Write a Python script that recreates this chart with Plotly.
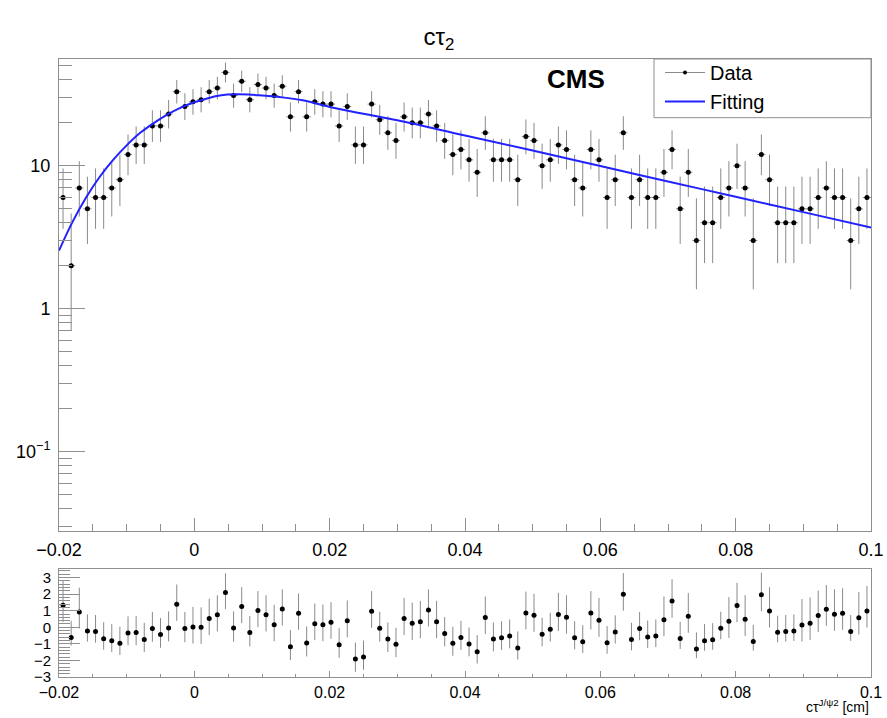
import math
import numpy as np
import plotly.graph_objects as go

# ---------------- data ----------------
bin_lo, bin_hi, n_bins = -0.02, 0.1, 100

counts = [6, 2, 7, 5, 6, 6, 7, 8, 12, 14,
          14, 19, 19, 23, 33, 26, 28, 29, 33, 35,
          45, 31, 39, 29, 37, 35, 31, 36, 22, 33,
          22, 28, 27, 27, 19, 26, 14, 14, 27, 21,
          17, 15, 22, 20, 20, 23, 19, 15, 12, 13,
          11, 9, 17, 11, 11, 11, 8, 16, 15, 10,
          11, 14, 13, 8, 7, 13, 11, 6, 8, 17,
          6, 8, 6, 6, 9, 13, 5, 9, 3, 4,
          4, 6, 7, 10, 7, 3, 12, 8, 4, 4,
          4, 5, 5, 6, 7, 6, 6, 3, 5, 6]

pulls = [1.33, -0.61, 0.93, -0.22, -0.26, -0.69, -0.81, -0.97, -0.34, -0.32,
         -0.73, -0.08, -0.44, -0.04, 1.39, -0.08, 0.02, 0.0, 0.53, 0.75,
         2.10, -0.04, 1.25, -0.32, 1.01, 0.75, 0.16, 1.11, -1.17, 0.85,
         -0.95, 0.22, 0.16, 0.30, -1.05, 0.40, -1.92, -1.80, 0.97, -0.06,
         -0.71, -1.03, 0.53, 0.24, 0.34, 1.05, 0.34, -0.38, -0.97, -0.61,
         -1.01, -1.47, 0.59, -0.71, -0.63, -0.53, -1.25, 0.87, 0.73, -0.42,
         -0.12, 0.77, 0.61, -0.63, -0.87, 0.87, 0.42, -0.93, -0.28, 2.00,
         -0.73, -0.08, -0.59, -0.53, 0.46, 1.58, -0.67, 0.67, -1.31, -0.81,
         -0.75, -0.06, 0.36, 1.31, 0.48, -0.85, 1.96, 0.99, -0.30, -0.26,
         -0.22, 0.14, 0.24, 0.71, 1.09, 0.79, 0.85, -0.26, 0.57, 0.99]

fit_x = [-0.020, -0.018, -0.016, -0.014, -0.012, -0.010, -0.008, -0.006, -0.004,
         -0.002, 0.000, 0.002, 0.004, 0.006, 0.008, 0.010, 0.013, 0.016, 0.020,
         0.025, 0.030, 0.040, 0.050, 0.060, 0.070, 0.080, 0.090, 0.100]
fit_y = [2.55, 4.05, 6.0, 8.35, 11.0, 13.9, 17.0, 19.9, 22.8, 25.5,
         27.8, 29.7, 31.1, 31.6, 31.5, 31.0, 30.1, 28.7, 25.8,
         23.1, 20.8, 16.3, 12.8, 9.95, 7.77, 6.07, 4.74, 3.70]

y_major = [0.1, 1, 10]
y_major_text = ["10<sup>\u22121</sup>", "1", "10"]

# ---------------- derived quantities ----------------
edges = np.linspace(bin_lo, bin_hi, n_bins + 1)
centers = 0.5 * (edges[:-1] + edges[1:])
half_w = 0.5 * (edges[1] - edges[0])


def pois_cdf(k, mu):
    if k < 0:
        return 0.0
    s = 0.0
    for i in range(k + 1):
        s += math.exp(-mu + i * math.log(mu) - math.lgamma(i + 1)) if mu > 0 else (1.0 if i == 0 else 0.0)
    return s


def garwood(n, a=0.3173):
    if n == 0:
        lo = 0.0
    else:
        l, h = 0.0, float(n)
        for _ in range(80):
            m = 0.5 * (l + h)
            if 1 - pois_cdf(n - 1, m) < a / 2:
                l = m
            else:
                h = m
        lo = 0.5 * (l + h)
    l, h = float(n), float(n) + 10 * math.sqrt(n + 1) + 10
    for _ in range(80):
        m = 0.5 * (l + h)
        if pois_cdf(n, m) > a / 2:
            l = m
        else:
            h = m
    hi = 0.5 * (l + h)
    return lo, hi


err_lo, err_hi = [], []
for n in counts:
    lo, hi = garwood(n)
    err_lo.append(n - lo)
    err_hi.append(hi - n)

pull_up, pull_dn = [], []
for p, el, eh in zip(pulls, err_lo, err_hi):
    norm = el if p >= 0 else eh
    pull_up.append(eh / norm)
    pull_dn.append(el / norm)

y_minor = [m * 10.0 ** k for k in (-2, -1, 0, 1) for m in range(2, 10)]
y_minor = [v for v in y_minor if 0.028 <= v <= 56]

# ---------------- figure ----------------
FONT = "Liberation Sans, Arial, Helvetica, sans-serif"
ERRC = "#8a8a8a"
FRAME = "#8f8f8f"
PW = 812.0   # plot width in px
PH = 618.0   # plot height in px

fig = go.Figure()

fig.add_trace(go.Scatter(
    x=centers, y=counts, mode="markers", showlegend=False,
    marker=dict(color="black", size=5),
    error_y=dict(type="data", symmetric=False, array=err_hi, arrayminus=err_lo,
                 color=ERRC, thickness=1, width=0),
    error_x=dict(type="constant", value=half_w, color=ERRC, thickness=1, width=0),
    xaxis="x", yaxis="y"))

fig.add_trace(go.Scatter(
    x=[None], y=[None], mode="lines+markers", name="Data",
    line=dict(color=ERRC, width=1), marker=dict(color="black", size=4),
    xaxis="x", yaxis="y"))

fig.add_trace(go.Scatter(
    x=fit_x, y=fit_y, mode="lines", name="Fitting",
    line=dict(color="#2222ff", width=2, shape="spline", smoothing=1.0),
    xaxis="x", yaxis="y"))

fig.add_trace(go.Scatter(
    x=centers, y=pulls, mode="markers", showlegend=False,
    marker=dict(color="black", size=5),
    error_y=dict(type="data", symmetric=False, array=pull_up, arrayminus=pull_dn,
                 color=ERRC, thickness=1, width=0),
    xaxis="x2", yaxis="y2"))

axis_common = dict(showline=True, mirror=True, linecolor=FRAME, linewidth=1,
                   showgrid=False, zeroline=False, ticks="inside",
                   tickcolor=FRAME, tickwidth=1, automargin=False)

fig.update_layout(
    width=887, height=718,
    margin=dict(l=59, r=16, t=59, b=41, autoexpand=False),
    paper_bgcolor="white", plot_bgcolor="white",
    font=dict(family=FONT, color="black"),
    title=dict(text="c\u03c4<sub>2</sub>", x=439 / 887, xref="container",
               y=1 - 37 / 718, yref="container", xanchor="center", yanchor="middle",
               font=dict(size=24, family=FONT)),
    xaxis=dict(domain=[0, 1], range=[bin_lo, bin_hi], anchor="y",
               tick0=0, dtick=0.02, ticklen=13,
               tickfont=dict(size=18), ticklabelstandoff=2,
               minor=dict(ticks="inside", dtick=0.005, tick0=0, ticklen=7,
                          tickcolor=FRAME, showgrid=False),
               **axis_common),
    yaxis=dict(domain=[146 / PH, 1], type="log", range=[-1.555, 1.747], anchor="x",
               tickmode="array", tickvals=y_major, ticktext=y_major_text,
               ticklen=26, tickfont=dict(size=18), ticklabelstandoff=4,
               minor=dict(ticks="inside", tickmode="array", tickvals=y_minor, ticklen=13,
                          tickcolor=FRAME, showgrid=False),
               **axis_common),
    xaxis2=dict(domain=[0, 1], range=[bin_lo, bin_hi], anchor="y2",
                tick0=0, dtick=0.02, ticklen=6,
                tickfont=dict(size=16), ticklabelstandoff=1,
                minor=dict(ticks="inside", dtick=0.005, tick0=0, ticklen=3,
                           tickcolor=FRAME, showgrid=False),
                **axis_common),
    yaxis2=dict(domain=[0, 107.7 / PH], range=[-3, 3.5], anchor="x2",
                tickmode="array", tickvals=[-3, -2, -1, 0, 1, 2, 3],
                ticklen=21, tickfont=dict(size=15), ticklabelstandoff=4,
                minor=dict(ticks="inside", dtick=0.2, tick0=0, ticklen=11,
                           tickcolor=FRAME, showgrid=False),
                **axis_common),
    legend=dict(x=(660 - 59) / PW, y=1 + 6 / PH, xanchor="left", yanchor="top",
                xref="paper", yref="paper", itemwidth=40,
                bgcolor="rgba(0,0,0,0)", borderwidth=0,
                font=dict(size=20, family=FONT), tracegroupgap=0),
    shapes=[dict(type="rect", xref="paper", yref="paper",
                 x0=(654 - 59) / PW, x1=1, y0=(677 - 117.7) / PH, y1=1,
                 line=dict(color=FRAME, width=1), fillcolor="rgba(0,0,0,0)")],
    annotations=[
        dict(text="<b>CMS</b>", xref="paper", yref="paper",
             x=(576 - 59) / PW, y=(677 - 79) / PH, xanchor="center", yanchor="middle",
             showarrow=False, font=dict(size=26, family=FONT)),
        dict(text="c\u03c4<sup>J/\u03c82</sup> [cm]", xref="paper", yref="paper",
             x=1, y=(677 - 706) / PH, xanchor="right", yanchor="middle",
             showarrow=False, font=dict(size=14, family=FONT)),
    ],
)

fig.write_html("out.html")
